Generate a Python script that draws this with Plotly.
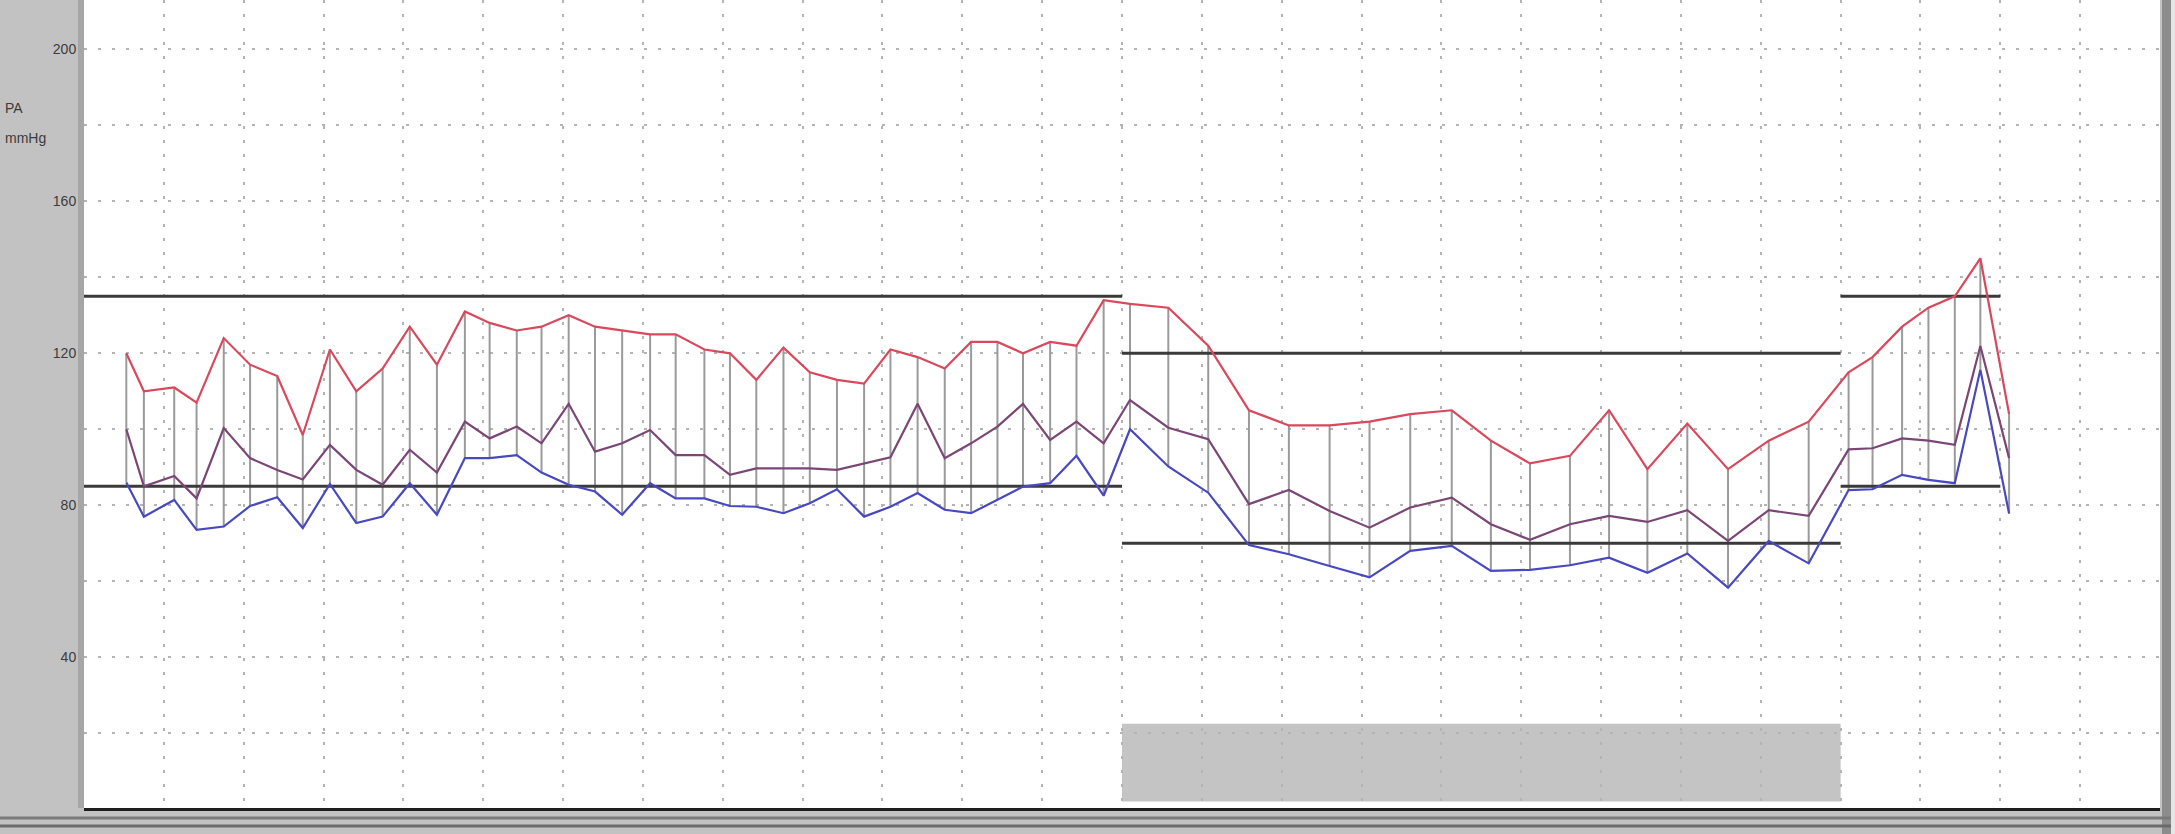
"""MAPA 24h - systolic / mean / diastolic with day/night limits."""

import plotly.graph_objects as go

# reading times (hours from start of record)
hours = [
    0.53, 0.75, 1.13, 1.41, 1.75, 2.08, 2.42, 2.74, 3.08, 3.41,
    3.74, 4.08, 4.42, 4.77, 5.08, 5.42, 5.73, 6.07, 6.40, 6.74,
    7.09, 7.41, 7.77, 8.09, 8.42, 8.76, 9.09, 9.43, 9.77, 10.10,
    10.44, 10.78, 11.11, 11.44, 11.76, 12.10, 12.43, 12.77, 13.10,
    13.58, 14.08, 14.59, 15.09, 15.60, 16.10, 16.61, 17.13, 17.62,
    18.11, 18.61, 19.10, 19.58, 20.08, 20.59, 21.10, 21.60,
    22.10, 22.40, 22.77, 23.10, 23.43, 23.75, 24.11,
]

systolic = [
    120, 110, 111, 107, 124, 117, 114, 98.5, 121, 110,
    116, 127, 117, 131, 128, 126, 127, 130, 127, 126,
    125, 125, 121, 120, 113, 121.5, 115, 113, 112, 121,
    119, 116, 123, 123, 120, 123, 122, 134, 133,
    132, 122, 105, 101, 101, 102, 104, 105, 97,
    91, 93, 105, 89.5, 101.5, 89.5, 97, 102,
    115, 119, 127, 132, 135, 145, 104,
]

mean_pa = [
    100, 85, 87.7, 81.8, 100.3, 92.4, 89.3, 86.8, 95.9, 89.3,
    85.4, 94.6, 88.6, 102, 97.6, 100.7, 96.3, 106.7, 94.1, 96.3,
    99.8, 93.2, 93.2, 88, 89.7, 89.7, 89.7, 89.3, 91, 92.6,
    106.7, 92.4, 96.3, 100.7, 106.7, 97.2, 102, 96.3, 107.7,
    100.4, 97.4, 80.3, 84, 78.5, 74.1, 79.4, 82, 75,
    70.9, 75, 77.2, 75.6, 78.7, 70.6, 78.7, 77.2,
    94.7, 95, 97.6, 97, 95.9, 121.9, 92.4,
]

diastolic = [
    86, 77, 81.4, 73.5, 74.4, 79.8, 82.1, 74, 85.6, 75.3,
    77, 85.8, 77.5, 92.4, 92.4, 93.2, 88.6, 85.4, 83.6, 77.5,
    85.8, 81.8, 81.8, 79.8, 79.6, 77.9, 80.5, 84.2, 77, 79.6,
    83.2, 78.8, 77.9, 81.4, 84.9, 85.8, 93, 82.5, 100,
    90.2, 83.3, 69.5, 67.1, 64, 61, 68, 69.3, 62.7,
    63, 64.2, 66.2, 62.2, 67.3, 58.3, 70.6, 64.7,
    84, 84.2, 88, 86.7, 85.8, 115.7, 77.8,
]

# limit periods: start, end, systolic limit, diastolic limit
limit_start = [0, 13, 22]
limit_end = [13, 22, 24]
limit_sys = [135, 120, 135]
limit_dia = [85, 70, 85]

night_start, night_end = 13, 22
night_band_top = 22.5

y_ticks = [20, 40, 60, 80, 100, 120, 140, 160, 180, 200]
y_labels = ["", "40", "", "80", "", "120", "", "160", "", "200"]

W, H = 2175, 834
ML, MR, MT, MB = 84, 15, 0, 26
PW = W - ML - MR
PH = H - MT - MB

fig = go.Figure()

# vertical bars systolic -> diastolic
bx, by = [], []
for t, s, d in zip(hours, systolic, diastolic):
    bx += [t, t, None]
    by += [s, d, None]
fig.add_trace(go.Scatter(
    x=bx, y=by, mode="lines", line=dict(color="#9a9a9a", width=2),
    hoverinfo="skip",
))

# limit lines
lx, ly = [], []
for a, b, s, d in zip(limit_start, limit_end, limit_sys, limit_dia):
    lx += [a, b, None, a, b, None]
    ly += [s, s, None, d, d, None]
fig.add_trace(go.Scatter(
    x=lx, y=ly, mode="lines", line=dict(color="#3a3a3a", width=3),
    hoverinfo="skip",
))

fig.add_trace(go.Scatter(x=hours, y=diastolic, mode="lines", name="PAD",
                         line=dict(color="#4848c0", width=2.2)))
fig.add_trace(go.Scatter(x=hours, y=mean_pa, mode="lines", name="PAM",
                         line=dict(color="#7a4676", width=2.2)))
fig.add_trace(go.Scatter(x=hours, y=systolic, mode="lines", name="PAS",
                         line=dict(color="#d9485c", width=2.2)))

shapes = [
    # night band
    dict(type="rect", xref="x", yref="y", x0=night_start, x1=night_end,
         y0=2, y1=night_band_top, fillcolor="#c4c4c4", line=dict(width=0),
         layer="below"),
    # left axis strip
    dict(type="rect", xref="paper", yref="paper", x0=-6 / PW, x1=0, y0=0, y1=1,
         fillcolor="#a6a6a6", line=dict(width=0)),
    # right frame strip
    dict(type="rect", xref="paper", yref="paper", x0=1 + 2 / PW, x1=1 + 11 / PW,
         y0=-MB / PH, y1=1, fillcolor="#8c8c8c", line=dict(width=0)),
    dict(type="rect", xref="paper", yref="paper", x0=1 + 11 / PW, x1=1 + MR / PW,
         y0=-MB / PH, y1=1, fillcolor="#e6e6e6", line=dict(width=0)),
    # bottom frame lines
    dict(type="line", xref="paper", yref="paper", x0=-ML / PW, x1=1 + 11 / PW,
         y0=-10 / PH, y1=-10 / PH, line=dict(color="#7a7a7a", width=3)),
    dict(type="line", xref="paper", yref="paper", x0=-ML / PW, x1=1 + 11 / PW,
         y0=-18 / PH, y1=-18 / PH, line=dict(color="#6a6a6a", width=3)),
]

unit_font = dict(size=14, color="#3c3c3c")

fig.update_layout(
    width=W, height=H,
    margin=dict(l=ML, r=MR, t=MT, b=MB),
    paper_bgcolor="#c2c2c2",
    plot_bgcolor="white",
    showlegend=False,
    shapes=shapes,
    font=dict(family="Liberation Sans Narrow, Arial Narrow, Liberation Sans, sans-serif",
              color="#3c3c3c", size=14),
    annotations=[
        dict(text="PA", xref="paper", yref="paper",
             x=-(ML - 3) / PW, y=1 - 108 / PH, xanchor="left", yanchor="middle",
             showarrow=False, font=unit_font),
        dict(text="mmHg", xref="paper", yref="paper",
             x=-(ML - 3) / PW, y=1 - 138 / PH, xanchor="left", yanchor="middle",
             showarrow=False, font=unit_font),
    ],
)

fig.update_xaxes(
    range=[0, 26], dtick=1, tick0=0,
    showgrid=True, gridcolor="#b4b4b4", gridwidth=2, griddash="3px,11px",
    showticklabels=False, ticks="", zeroline=False,
    showline=True, linecolor="#1e1e1e", linewidth=3,
)
fig.update_yaxes(
    range=[0.3, 213],
    tickmode="array", tickvals=y_ticks, ticktext=y_labels,
    ticks="outside", ticklen=4, tickwidth=3, tickcolor="#333333",
    showgrid=True, gridcolor="#b4b4b4", gridwidth=2, griddash="3px,11px",
    zeroline=False, showline=False,
)

fig.write_html(
    "out.html",
    config={"displayModeBar": False},
    post_script="document.body.style.margin='0';document.body.style.overflow='hidden';",
)
